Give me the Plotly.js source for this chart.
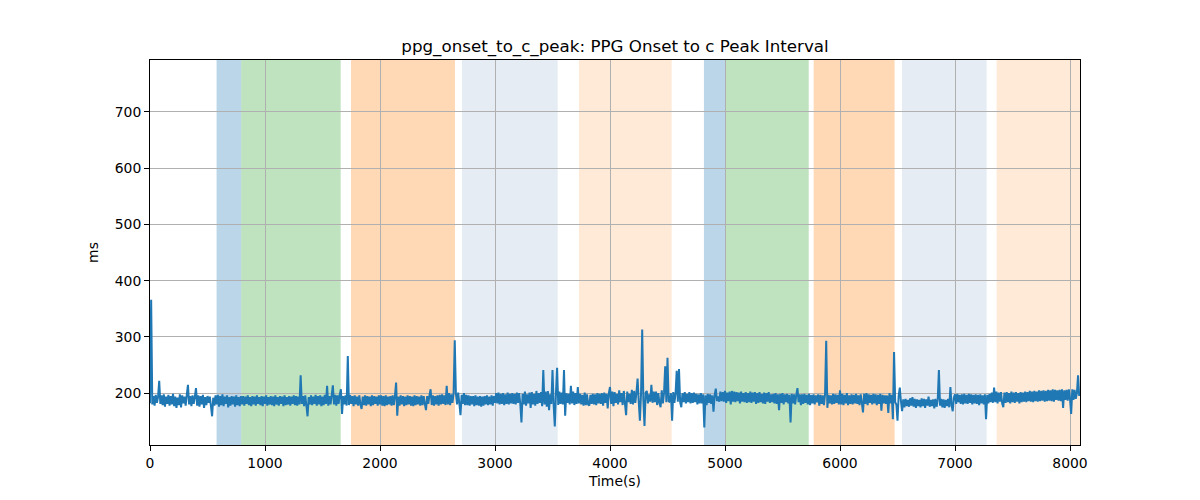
<!DOCTYPE html>
<html>
<head>
<meta charset="utf-8">
<script src="https://cdn.plot.ly/plotly-3.0.1.min.js"></script>
<style>
  html, body { margin: 0; padding: 0; background: #fff; }
  #chart { width: 1200px; height: 500px; }
</style>
</head>
<body>
<div id="chart"></div>
<script>
// sampled every 10 s, one line = 400 s
const sampleStep = 10;
const intervalMs = [
  182,366,180,195,178,197,183,193,222,181, 196,179,198,176,194,181,197,178,195,180, 199,177,194,174,192,179,198,175,196,182, 194,178,197,215,180,195,177,196,181,194,
  209,178,196,176,195,180,197,174,193,179, 195,183,194,177,159,192,178,196,180,197, 176,195,179,198,177,194,181,196,175,193, 178,195,180,194,176,196,179,193,177,195,
  180,195,178,194,181,196,179,193,177,195, 180,194,178,196,181,193,179,195,177,194, 181,196,178,193,180,195,179,194,177,196, 180,193,178,195,181,194,177,196,179,193,
  180,195,178,194,181,196,179,195,178,194, 180,232,181,195,177,196,178,159,193,180, 196,179,194,181,197,178,195,180,196,177, 194,179,197,181,213,178,195,180,196,214,
  180,197,178,196,181,198,207,163,195,180, 196,178,266,179,197,181,195,177,196,180, 194,178,196,180,172,194,179,196,178,195, 180,194,177,196,179,195,181,194,178,196,
  180,196,178,195,177,196,179,194,180,195, 178,196,179,195,219,160,194,178,196,180, 195,177,194,179,196,180,195,178,194,177, 196,179,195,180,194,178,196,179,195,181,
  170,195,181,196,207,179,196,178,195,180, 196,178,197,180,198,181,196,179,213,180, 200,179,198,183,200,294,199,180,201,182, 161,197,181,200,179,197,179,196,178,195,
  180,195,177,196,179,194,178,195,176,194, 178,195,180,196,179,194,180,196,178,195, 183,200,182,201,180,199,181,200,179,198, 181,201,180,199,182,200,181,199,180,201,
  183,200,181,148,199,180,203,178,198,182, 201,174,202,180,199,178,204,181,200,183, 202,177,241,180,203,176,204,170,198,181, 241,179,141,200,245,179,203,181,201,180,
  241,160,200,183,199,180,213,182,203,179, 200,181,211,182,199,180,197,178,201,179, 198,180,178,197,181,199,180,198,179,200, 182,199,181,200,178,201,183,199,173,200,
  211,181,203,177,202,183,199,180,205,184, 200,179,204,182,161,203,184,199,181,206, 180,204,183,201,226,184,151,200,313,188, 142,201,204,182,198,185,215,183,203,184,
  203,179,200,183,175,205,182,201,248,184, 263,186,184,200,151,202,183,199,240,185, 243,184,175,200,184,202,182,199,184,202, 182,200,183,201,184,199,180,198,182,200,
  182,198,139,196,179,199,183,198,181,196, 167,197,208,186,194,185,203,186,202,185, 204,183,201,186,203,180,204,185,203,184, 202,186,201,182,203,185,200,184,202,183,
  200,184,203,183,201,185,202,181,200,183, 202,184,199,182,201,181,200,185,202,183, 198,184,199,182,200,181,198,170,199,183, 200,180,198,184,199,182,197,148,199,182,
  198,180,197,209,184,198,179,198,181,199, 183,197,180,199,179,197,182,198,180,196, 184,198,178,197,181,196,179,198,293,174, 197,182,196,180,199,181,198,183,197,180,
  205,180,199,179,197,182,200,179,196,181, 198,180,197,182,199,181,196,179,198,183, 166,199,181,200,179,198,183,197,180,199, 182,198,179,197,181,199,169,197,182,196,
  181,196,165,200,182,197,154,273,184,180, 151,195,210,186,168,189,175,190,177,188, 176,191,178,193,176,190,174,189,177,188, 175,191,177,190,174,189,178,194,176,188,
  177,189,173,190,176,189,241,178,190,175, 189,174,188,177,190,175,211,179,168,192, 198,181,199,184,197,181,198,180,199,182, 197,181,199,183,198,180,197,182,198,181,
  197,179,198,182,196,180,198,154,197,182, 199,184,201,183,210,184,203,182,201,185, 202,182,175,201,183,202,184,200,182,203, 184,201,183,202,185,200,182,202,184,201,
  185,203,184,202,186,204,185,203,184,204, 186,203,185,205,186,204,187,205,185,204, 186,206,187,205,186,207,185,206,188,205, 187,206,186,207,174,205,188,206,187,207,
  190,163,207,188,206,190,200,232,195
];
const timeS = intervalMs.map((_, i) => i * sampleStep);

// shaded segments: start, end, colour
const segStart = [579, 793, 1748, 2713, 3730, 4817, 5006, 5771, 6539, 7362];
const segEnd = [793, 1658, 2652, 3545, 4536, 5006, 5728, 6475, 7275, 8090];
const segColor = [
  'rgba(31,119,180,0.3)', 'rgba(44,160,44,0.3)', 'rgba(255,127,14,0.3)',
  'rgba(176,196,222,0.33)', 'rgba(255,127,14,0.16)',
  'rgba(31,119,180,0.3)', 'rgba(44,160,44,0.3)', 'rgba(255,127,14,0.3)',
  'rgba(176,196,222,0.33)', 'rgba(255,127,14,0.16)'
];

const shapes = segStart.map((s, i) => ({
  type: 'rect', xref: 'x', yref: 'paper', x0: s, x1: segEnd[i], y0: 0, y1: 1,
  fillcolor: segColor[i], line: { width: 0 }, layer: 'below'
}));

const font = { family: 'DejaVu Sans', size: 13.9, color: '#000' };

const trace = {
  type: 'scatter', mode: 'lines', x: timeS, y: intervalMs,
  line: { color: '#1f77b4', width: 2, simplify: false }, hoverinfo: 'skip'
};

const axisBase = {
  showline: true, mirror: true, linecolor: '#000', linewidth: 1,
  ticks: 'outside', ticklen: 5, tickcolor: '#000', tickwidth: 1,
  showgrid: true, gridcolor: '#b0b0b0', gridwidth: 1,
  zeroline: false, tickfont: font
};

const layout = {
  width: 1200, height: 500,
  margin: { l: 150, r: 120, t: 60, b: 55 },
  paper_bgcolor: '#fff', plot_bgcolor: '#fff',
  showlegend: false,
  font: font,
  title: {
    text: 'ppg_onset_to_c_peak: PPG Onset to c Peak Interval',
    font: { family: 'DejaVu Sans', size: 16.7, color: '#000' },
    xref: 'paper', x: 0.5, xanchor: 'center',
    yref: 'container', y: 1 - 46 / 500, yanchor: 'middle'
  },
  xaxis: Object.assign({}, axisBase, {
    range: [0, 8087], tickvals: [0, 1000, 2000, 3000, 4000, 5000, 6000, 7000, 8000],
    title: { text: 'Time(s)', font: font, standoff: 6 }
  }),
  yaxis: Object.assign({}, axisBase, {
    range: [108, 792], tickvals: [200, 300, 400, 500, 600, 700],
    title: { text: 'ms', font: font, standoff: 12 }
  }),
  shapes: shapes
};

Plotly.newPlot('chart', [trace], layout, { displayModeBar: false, staticPlot: true });
</script>
</body>
</html>
